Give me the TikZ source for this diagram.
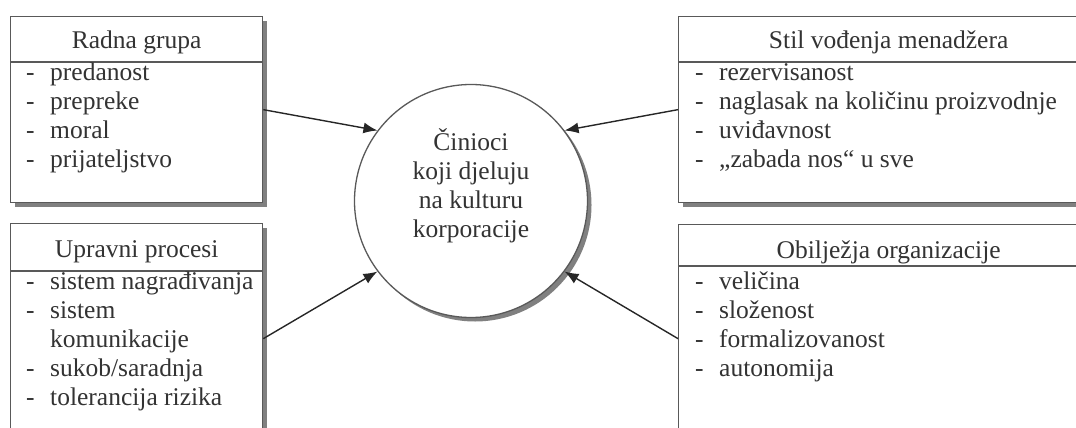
\documentclass[tikz,border=0pt]{standalone}
\usepackage{fontspec}
\setmainfont{Liberation Serif}
\usetikzlibrary{arrows.meta, shadows, positioning, calc}

\newcommand{\crtica}[1]{\makebox[24pt][l]{-}#1}

\begin{document}
\begin{tikzpicture}
        [x=1pt, y=-1pt, >={Latex[length=14pt, width=11pt]},
        every node/.style={font=\fontsize{25.5}{29}\selectfont, text=black!80},
        frame/.style={draw=black!65, line width=1.3pt, fill=white,
            drop shadow={shadow xshift=4pt, shadow yshift=-4pt, fill=black!50, opacity=1}},
        rule/.style={draw=black!65, line width=1.3pt},
        title/.style={inner sep=0pt},
        items/.style={anchor=north west, align=left, inner sep=0pt},
        arrow/.style={->, draw=black!85, line width=1.4pt}]
        \useasboundingbox (0,0) rectangle (1076,428);
        \clip (0,0) rectangle (1076,428);

        % okviri
        \node[frame, anchor=north west, minimum width=252pt, minimum height=186pt]  (radna)    at (10,16)  {};
        \node[frame, anchor=north west, minimum width=252pt, minimum height=230pt]  (upravni)  at (10,223) {};
        \node[frame, anchor=north west, minimum width=420pt, minimum height=186pt]  (stil)     at (678,16) {};
        \node[frame, anchor=north west, minimum width=420pt, minimum height=228pt]  (obiljezja) at (678,224) {};
        \node[frame, circle, minimum size=233pt]  (cinioci)  at (471,201) {};

        \draw[rule] (radna.west |- 0,62) -- (radna.east |- 0,62);
        \draw[rule] (upravni.west |- 0,271) -- (upravni.east |- 0,271);
        \draw[rule] (stil.west |- 0,62) -- (stil.east |- 0,62);
        \draw[rule] (obiljezja.west |- 0,266) -- (obiljezja.east |- 0,266);

        % naslovi
        \node[title]  (radnaT)     at (radna.north |- 0,42)     {Radna grupa};
        \node[title]  (upravniT)   at (upravni.north |- 0,252)  {Upravni procesi};
        \node[title]  (stilT)      at (stil.north |- 0,42)      {Stil vođenja menadžera};
        \node[title]  (obiljezjaT) at (obiljezja.north |- 0,252) {Obilježja organizacije};

        % stavke
        \node[items]  (radnaL)    at ($(radna.west |- 0,62)+(16,1)$)
        {\crtica{predanost}\\
            \crtica{prepreke}\\
            \crtica{moral}\\
            \crtica{prijateljstvo}};

        \node[items]  (upravniL)  at ($(upravni.west |- 0,271)+(16,1)$)
        {\crtica{sistem nagrađivanja}\\
            \crtica{sistem}\\
            \hspace*{24pt}komunikacije\\
            \crtica{sukob/saradnja}\\
            \crtica{tolerancija rizika}};

        \node[items]  (stilL)     at ($(stil.west |- 0,62)+(17,1)$)
        {\crtica{rezervisanost}\\
            \crtica{naglasak na količinu proizvodnje}\\
            \crtica{uviđavnost}\\
            \crtica{„zabada nos“ u sve}};

        \node[items]  (obiljezjaL) at ($(obiljezja.west |- 0,266)+(17,6)$)
        {\crtica{veličina}\\
            \crtica{složenost}\\
            \crtica{formalizovanost}\\
            \crtica{autonomija}};

        \node[align=center, inner sep=0pt]  (ciniociT)  at ($(cinioci)+(0,-15)$)
        {Činioci\\ koji djeluju\\ na kulturu\\ korporacije};

        \path (radna.east)      edge[arrow]  (cinioci.143)
              (upravni.east)    edge[arrow]  (cinioci.217)
              (stil.west)       edge[arrow]  (cinioci.37)
              (obiljezja.west)  edge[arrow]  (cinioci.323);
\end{tikzpicture}
\end{document}
